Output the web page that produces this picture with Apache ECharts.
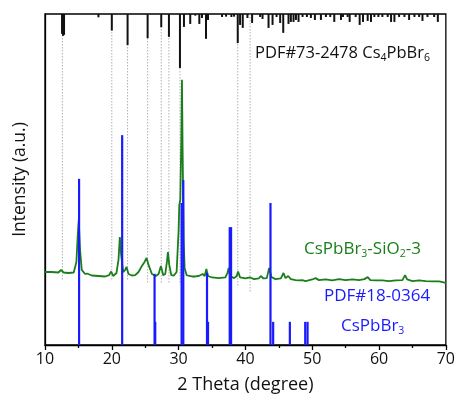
<!DOCTYPE html>
<html><head><meta charset="utf-8">
<script src="https://cdn.jsdelivr.net/npm/echarts@6/dist/echarts.min.js"></script>
<style>html,body{margin:0;padding:0;background:#fff}#c{width:458px;height:405px}</style>
</head><body><div id="c"></div>
<script>
// x-axis
const xTicks = [10, 20, 30, 40, 50, 60, 70];
// PDF#73-2478 Cs4PbBr6 reference sticks (hang from top), depth in axis units
const cs4Theta = [12.55,12.7,12.85,18.0,20.0,22.36,25.36,27.4,28.55,30.2,30.8,31.74,32.5,33.1,33.5,34.1,34.4,36.5,37.1,37.9,38.3,38.85,39.2,39.6,40.3,41.0,42.2,42.56,43.46,44.06,44.66,45.2,45.66,46.45,46.8,47.2,47.56,47.95,48.55,49.2,49.8,50.4,51.3,52.05,52.7,53.3,54.3,54.6,55.3,55.6,56.5,57.1,57.6,58.3,58.8,59.3,59.9,60.5,61.3,61.8,62.3,63.0,63.8,64.5,65.3,66.0,66.5,67.25,68.25,68.8];
const cs4Depth = [6.0,6.6,6.3,1.0,5.0,9.4,7.3,4.0,6.9,16.3,3.9,3.0,0.5,3.0,1.2,7.5,1.8,0.9,0.8,0.9,0.8,8.8,3.3,4.2,1.2,2.7,0.9,1.5,4.2,3.3,0.9,2.7,5.7,3.0,2.4,2.4,1.8,2.4,0.9,0.9,1.2,1.8,1.8,0.9,0.9,2.4,1.8,0.9,0.9,2.4,0.9,3.3,2.4,2.1,2.4,0.9,0.9,0.9,0.9,2.4,2.4,0.9,0.9,1.8,0.9,0.9,2.1,0.9,0.9,2.4];
// dotted guide lines: position and lower end (axis units)
const guideTheta = [12.6,20.0,22.36,25.36,27.4,28.55,30.2,38.85,40.7];
const guideEnd = [19.6,19.6,19.6,18.7,18.7,18.7,18.7,17.5,16.0];
// CsPbBr3-SiO2-3 measured pattern
const sampleTheta = [10,11,12,12.4,12.8,13.5,14.3,14.7,14.9,15.05,15.25,15.5,16.0,16.3,17.0,18.0,19.0,19.6,19.9,20.2,20.7,21.0,21.2,21.4,21.7,22.0,22.2,22.5,23.0,23.5,24.0,24.5,24.9,25.2,25.5,26.0,26.6,27.0,27.35,27.7,28.0,28.25,28.4,28.6,28.9,29.3,29.7,30.0,30.1,30.25,30.4,30.5,30.6,30.75,30.9,31.2,31.6,32.0,32.5,33.0,33.6,33.9,34.15,34.4,35.0,36.0,37.0,37.3,37.5,37.7,38.3,38.7,38.9,39.2,40.0,40.7,41.3,42.0,42.3,42.7,43.2,43.55,43.9,44.5,45.3,45.7,46.0,46.4,46.8,47.5,48.0,48.5,49.0,50.0,50.5,51.0,52.0,53.0,54.0,55.0,56.0,57.0,57.8,58.3,58.7,59.5,60.5,61.5,62.5,63.5,63.9,64.2,65.0,66.0,67.0,68.0,69.0,70.0];
const sampleIntensity = [22.05,22.05,21.9,22.66,21.9,21.75,21.9,25.1,33.2,37.8,28.7,22.7,21.45,21.6,21.0,20.85,20.7,21.1,22.2,20.85,21.75,25.7,32.6,27.2,22.05,22.7,23.6,21.45,21.0,21.1,22.05,23.9,25.1,26.3,24.2,21.45,20.85,21.45,23.9,21.1,21.45,25.1,28.1,24.2,21.1,21.0,22.05,34.7,42.3,43.8,61.9,80.1,58.9,31.7,23.3,21.1,20.85,20.7,20.7,20.85,21.45,20.85,23.0,20.85,20.4,20.2,20.4,21.75,23.3,20.85,20.2,20.85,22.2,20.4,20.1,20.4,19.9,20.1,20.85,20.1,20.2,23.3,20.5,19.9,20.1,21.75,20.2,20.85,19.9,19.6,19.5,19.6,19.3,19.8,20.2,19.6,19.8,19.5,19.9,19.6,19.8,19.6,19.9,20.5,19.6,19.5,19.5,19.3,19.5,19.6,21.1,19.8,19.3,19.5,19.3,19.2,19.2,18.8];
// PDF#18-0364 CsPbBr3 reference sticks (rise from bottom)
const cspbTheta = [15.1,21.55,26.4,26.5,30.45,30.7,34.25,34.4,37.65,37.85,43.75,44.15,46.65,48.95,49.3];
const cspbIntensity = [50.2,63.4,21.5,7.0,42.9,49.8,21.8,7.0,35.6,35.6,42.9,7.0,7.0,7.0,7.0];

const FONT = 'Open Sans';
const chart = echarts.init(document.getElementById('c'));

function stickSeries(name, thetas, vals, mode, style, z) {
  return {
    type: 'custom', name: name, z: z,
    data: thetas.map((t, i) => [t, vals[i]]),
    renderItem: function (params, api) {
      const t = api.value(0), v = api.value(1);
      let a, b;
      if (mode === 'top') { a = api.coord([t, 100]); b = api.coord([t, 100 - v]); }
      else if (mode === 'guide') { a = api.coord([t, 100]); b = api.coord([t, v]); }
      else { a = api.coord([t, 0]); b = api.coord([t, v]); }
      return { type: 'line', shape: { x1: a[0], y1: a[1], x2: b[0], y2: b[1] }, style: style };
    }
  };
}

chart.setOption({
  animation: false,
  backgroundColor: '#fff',
  grid: { left: 45, right: 12, top: 14, bottom: 60, show: true, borderColor: '#000', borderWidth: 1.3 },
  xAxis: {
    type: 'value', min: xTicks[0], max: xTicks[xTicks.length - 1], interval: 10,
    name: '2 Theta (degree)', nameLocation: 'middle', nameGap: 31,
    nameTextStyle: { fontFamily: FONT, fontSize: 18, color: '#111' },
    axisLine: { lineStyle: { color: '#000', width: 1.3 } },
    axisTick: { inside: false, length: 5, lineStyle: { color: '#000', width: 1.3 } },
    minorTick: { show: true, splitNumber: 2, length: 3, lineStyle: { color: '#000', width: 1.3 } },
    axisLabel: { fontFamily: FONT, fontSize: 16, color: '#111', margin: 6 },
    splitLine: { show: false }
  },
  yAxis: {
    type: 'value', min: 0, max: 100,
    name: 'Intensity (a.u.)', nameLocation: 'middle', nameGap: 16,
    nameTextStyle: { fontFamily: FONT, fontSize: 17.5, color: '#111' },
    axisLine: { show: true, lineStyle: { color: '#000', width: 1.3 } },
    axisTick: { show: false }, axisLabel: { show: false }, splitLine: { show: false }
  },
  series: [
    stickSeries('guides', guideTheta, guideEnd, 'guide', { stroke: '#b0b0b0', lineWidth: 1, lineDash: [1.5, 1.5] }, 1),
    stickSeries('Cs4PbBr6', cs4Theta, cs4Depth, 'top', { stroke: '#111', lineWidth: 2 }, 3),
    {
      type: 'line', name: 'CsPbBr3-SiO2-3', z: 4, showSymbol: false, symbol: 'none',
      data: sampleTheta.map((t, i) => [t, sampleIntensity[i]]),
      lineStyle: { color: '#1a7f1a', width: 1.8 }
    },
    stickSeries('CsPbBr3', cspbTheta, cspbIntensity, 'bottom', { stroke: '#1a1aff', lineWidth: 2.2 }, 5)
  ],
  graphic: [
    { type: 'text', left: 255, top: 45, z: 10, style: {
      text: 'PDF#73-2478 Cs{s|4}PbBr{s|6}', fill: '#111', font: '16.5px "Open Sans"',
      rich: { s: { fontSize: 10.5, fontFamily: FONT, fill: '#111', padding: [10, 0, 0, 0] } } } },
    { type: 'text', left: 304, top: 241, z: 10, style: {
      text: 'CsPbBr{s|3}-SiO{s|2}-3', fill: '#1a7f1a', font: '17px "Open Sans"',
      rich: { s: { fontSize: 10.5, fontFamily: FONT, fill: '#1a7f1a', padding: [10, 0, 0, 0] } } } },
    { type: 'text', left: 324, top: 288, z: 10, style: {
      text: 'PDF#18-0364', fill: '#1a1aff', font: '17px "Open Sans"' } },
    { type: 'text', left: 341, top: 318, z: 10, style: {
      text: 'CsPbBr{s|3}', fill: '#1a1aff', font: '17px "Open Sans"',
      rich: { s: { fontSize: 10.5, fontFamily: FONT, fill: '#1a1aff', padding: [10, 0, 0, 0] } } } }
  ]
});
</script></body></html>
